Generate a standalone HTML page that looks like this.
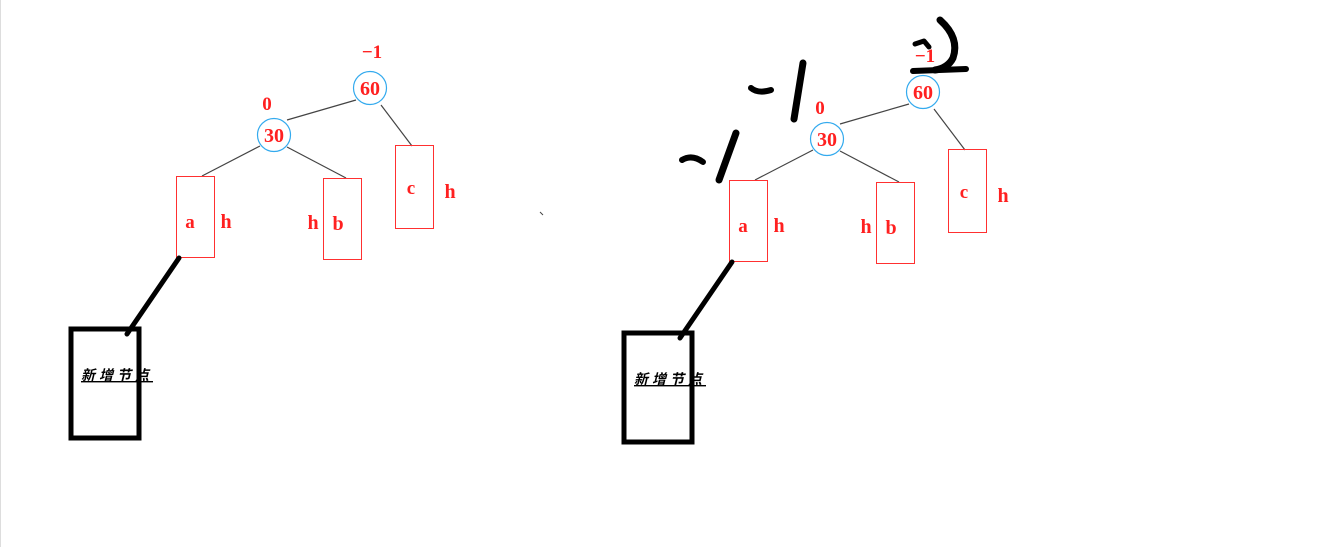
<!DOCTYPE html>
<html><head><meta charset="utf-8"><style>
html,body{margin:0;padding:0;background:#fff;}
svg{display:block;}
.r{font-family:"Liberation Serif","Noto Serif CJK SC",serif;font-weight:bold;fill:#ff2020;}
.cn{font-family:"Liberation Serif","Noto Sans CJK SC",sans-serif;font-style:italic;font-weight:bold;font-size:14px;letter-spacing:4px;fill:#000;text-decoration:underline;}
</style></head><body>
<svg width="1322" height="547" viewBox="0 0 1322 547" xmlns="http://www.w3.org/2000/svg">
<line x1="0.5" y1="0" x2="0.5" y2="547" stroke="#ddd"/>
<g>
  <line x1="356" y1="100" x2="287" y2="120" stroke="#444" stroke-width="1.2"/>
  <line x1="381" y1="105" x2="412" y2="146" stroke="#444" stroke-width="1.2"/>
  <line x1="260" y1="146" x2="202" y2="176" stroke="#444" stroke-width="1.2"/>
  <line x1="287" y1="147" x2="346" y2="178" stroke="#444" stroke-width="1.2"/>
  <circle cx="370" cy="88" r="16.5" fill="#fff" stroke="#33aaee" stroke-width="1.2"/>
  <text x="370" y="95" text-anchor="middle" class="r" font-size="20">60</text>
  <text x="372" y="58" text-anchor="middle" class="r" font-size="19">−1</text>
  <circle cx="274" cy="135" r="16.5" fill="#fff" stroke="#33aaee" stroke-width="1.2"/>
  <text x="274" y="142" text-anchor="middle" class="r" font-size="20">30</text>
  <text x="267" y="110" text-anchor="middle" class="r" font-size="19">0</text>
  <rect x="176.5" y="176.5" width="38" height="81" fill="none" stroke="#ff3030"/>
  <text x="190" y="228" text-anchor="middle" class="r" font-size="19">a</text>
  <text x="226" y="228" text-anchor="middle" class="r" font-size="20">h</text>
  <rect x="323.5" y="178.5" width="38" height="81" fill="none" stroke="#ff3030"/>
  <text x="338" y="230" text-anchor="middle" class="r" font-size="20">b</text>
  <text x="313" y="229" text-anchor="middle" class="r" font-size="20">h</text>
  <rect x="395.5" y="145.5" width="38" height="83" fill="none" stroke="#ff3030"/>
  <text x="411" y="194" text-anchor="middle" class="r" font-size="19">c</text>
  <text x="450" y="198" text-anchor="middle" class="r" font-size="20">h</text>
  <line x1="179" y1="258" x2="127" y2="334" stroke="#000" stroke-width="5" stroke-linecap="round"/>
  <rect x="71" y="329" width="68" height="109" fill="none" stroke="#000" stroke-width="5"/>
  <text x="81" y="380" class="cn">新增节点</text>
</g>
<path d="M540 212 l3 3" stroke="#444"/>
<g transform="translate(553,4)">
  <line x1="356" y1="100" x2="287" y2="120" stroke="#444" stroke-width="1.2"/>
  <line x1="381" y1="105" x2="412" y2="146" stroke="#444" stroke-width="1.2"/>
  <line x1="260" y1="146" x2="202" y2="176" stroke="#444" stroke-width="1.2"/>
  <line x1="287" y1="147" x2="346" y2="178" stroke="#444" stroke-width="1.2"/>
  <circle cx="370" cy="88" r="16.5" fill="#fff" stroke="#33aaee" stroke-width="1.2"/>
  <text x="370" y="95" text-anchor="middle" class="r" font-size="20">60</text>
  <text x="372" y="58" text-anchor="middle" class="r" font-size="19">−1</text>
  <circle cx="274" cy="135" r="16.5" fill="#fff" stroke="#33aaee" stroke-width="1.2"/>
  <text x="274" y="142" text-anchor="middle" class="r" font-size="20">30</text>
  <text x="267" y="110" text-anchor="middle" class="r" font-size="19">0</text>
  <rect x="176.5" y="176.5" width="38" height="81" fill="none" stroke="#ff3030"/>
  <text x="190" y="228" text-anchor="middle" class="r" font-size="19">a</text>
  <text x="226" y="228" text-anchor="middle" class="r" font-size="20">h</text>
  <rect x="323.5" y="178.5" width="38" height="81" fill="none" stroke="#ff3030"/>
  <text x="338" y="230" text-anchor="middle" class="r" font-size="20">b</text>
  <text x="313" y="229" text-anchor="middle" class="r" font-size="20">h</text>
  <rect x="395.5" y="145.5" width="38" height="83" fill="none" stroke="#ff3030"/>
  <text x="411" y="194" text-anchor="middle" class="r" font-size="19">c</text>
  <text x="450" y="198" text-anchor="middle" class="r" font-size="20">h</text>
  <line x1="179" y1="258" x2="127" y2="334" stroke="#000" stroke-width="5" stroke-linecap="round"/>
  <rect x="71" y="329" width="68" height="109" fill="none" stroke="#000" stroke-width="5"/>
  <text x="81" y="380" class="cn">新增节点</text>
</g>
<g fill="none" stroke="#000" stroke-linecap="round" stroke-linejoin="round">
  <path d="M940 20 Q960 38 953 58 Q948 68 935 70" stroke-width="7"/>
  <path d="M913 71 L966 69" stroke-width="6"/>
  <path d="M915 44 L924 41 L929 47" stroke-width="5"/>
  <path d="M751 88 Q758 94 771 90" stroke-width="6"/>
  <path d="M803 63 L794 119" stroke-width="7"/>
  <path d="M682 160 Q692 154 703 162" stroke-width="6"/>
  <path d="M736 133 L719 180" stroke-width="7"/>
</g>
</svg>
</body></html>
